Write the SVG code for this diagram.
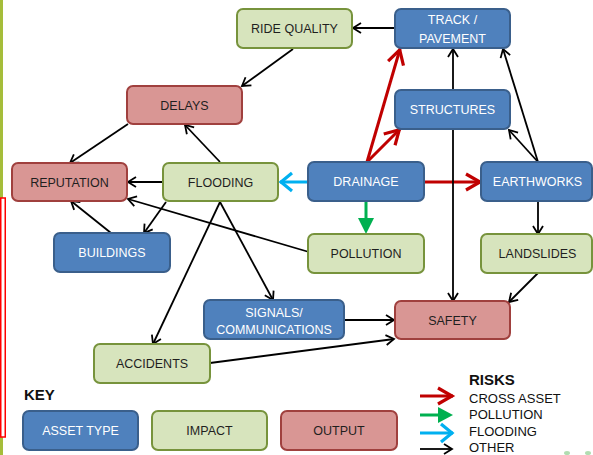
<svg xmlns="http://www.w3.org/2000/svg" width="593" height="455" viewBox="0 0 593 455">
<style>
.node rect{stroke-width:2}
.asset rect{fill:#4F81BD;stroke:#3A5F8B}
.impact rect{fill:#D7E4BD;stroke:#77933C}
.output rect{fill:#D99694;stroke:#A0403E}
text{font-family:"Liberation Sans",Arial,sans-serif;font-size:12.5px;text-anchor:middle}
.asset text{fill:#FFFFFF}
.impact text,.output text{fill:#1F1F1F}
.leg{font-family:"Liberation Sans",Arial,sans-serif;font-size:13px;text-anchor:start;fill:#111}
.hd{font-family:"Liberation Sans",Arial,sans-serif;font-size:15px;font-weight:bold;text-anchor:start;fill:#111}
.k{stroke:#000;stroke-width:1.8;fill:none}
.r{stroke:#C00000;stroke-width:3;fill:none}
.g{stroke:#00B050;stroke-width:3;fill:none}
.b{stroke:#00B0F0;stroke-width:3;fill:none}
</style>
<defs>
<marker id="mk" markerUnits="userSpaceOnUse" orient="auto" markerWidth="20" markerHeight="20" viewBox="-10 -10 20 20" refX="0" refY="0" overflow="visible">
<path d="M-8,-5 L0,0 L-8,5" fill="none" stroke="#000" stroke-width="1.8"/>
</marker>
<marker id="mr" markerUnits="userSpaceOnUse" orient="auto" markerWidth="30" markerHeight="30" viewBox="-15 -15 30 30" refX="0" refY="0" overflow="visible">
<path d="M-15,-8 L-1,0 L-15,8" fill="none" stroke="#C00000" stroke-width="3.2"/>
</marker>
<marker id="mb" markerUnits="userSpaceOnUse" orient="auto" markerWidth="30" markerHeight="30" viewBox="-15 -15 30 30" refX="0" refY="0" overflow="visible">
<path d="M-12,-9 L-1,0 L-12,9" fill="none" stroke="#00B0F0" stroke-width="3.2"/>
</marker>
</defs>
<rect x="0" y="0" width="593" height="455" fill="#FFFFFF"/>
<rect x="0" y="0" width="3" height="455" fill="#A5BD3A"/>
<rect x="0.75" y="198" width="4.5" height="239" fill="#FFFFFF" stroke="#FF0000" stroke-width="1.5"/>
<ellipse cx="567" cy="453" rx="3" ry="2" fill="#7DC77D" opacity="0.6"/>
<ellipse cx="588" cy="453" rx="3" ry="2" fill="#7DC77D" opacity="0.6"/>

<g id="connectors">
<path class="k" d="M395,28 L353,28" marker-end="url(#mk)"/>
<path class="k" d="M293,49 L242,86" marker-end="url(#mk)"/>
<path class="k" d="M128,124 L70,163" marker-end="url(#mk)"/>
<path class="k" d="M220,162 L185,125" marker-end="url(#mk)"/>
<path class="k" d="M163,182 L128,182" marker-end="url(#mk)"/>
<path class="k" d="M309,252 L128,199" marker-end="url(#mk)"/>
<path class="k" d="M111,233 L71,201" marker-end="url(#mk)"/>
<path class="k" d="M166,202 L144,233" marker-end="url(#mk)"/>
<path class="k" d="M220,202 L153,344" marker-end="url(#mk)"/>
<path class="k" d="M220,202 L273,300" marker-end="url(#mk)"/>
<path class="b" d="M308,182 L280,182" marker-end="url(#mb)"/>
<path class="g" d="M366,201 L366,220"/>
<path d="M358,218 L374,218 L366,234 Z" fill="#00B050"/>
<path class="r" d="M367,162 L400,49" marker-end="url(#mr)"/>
<path class="r" d="M367,162 L400,129" marker-end="url(#mr)"/>
<path class="r" d="M424,182 L481,182" marker-end="url(#mr)"/>
<path class="k" d="M453,90 L453,49" marker-end="url(#mk)"/>
<path class="k" d="M538,162 L503,49" marker-end="url(#mk)"/>
<path class="k" d="M538,162 L509,130" marker-end="url(#mk)"/>
<path class="k" d="M538,201 L538,234" marker-end="url(#mk)"/>
<path class="k" d="M538,273 L509,302" marker-end="url(#mk)"/>
<path class="k" d="M344,320 L394,320" marker-end="url(#mk)"/>
<path class="k" d="M210,363 L394,339" marker-end="url(#mk)"/>
<path class="k" d="M453,129 L453,301" marker-end="url(#mk)"/>
</g>

<g id="ride-quality" class="node impact"><rect x="237" y="9" width="115" height="39" rx="6"/><text x="294.5" y="33">RIDE QUALITY</text></g>
<g id="track-pavement" class="node asset"><rect x="395" y="9" width="115" height="39" rx="6"/><text x="452.5" y="24">TRACK /</text><text x="452.5" y="43">PAVEMENT</text></g>
<g id="delays" class="node output"><rect x="127" y="86" width="115" height="38" rx="6"/><text x="184.5" y="110">DELAYS</text></g>
<g id="structures" class="node asset"><rect x="395" y="90" width="115" height="39" rx="6"/><text x="452.5" y="114">STRUCTURES</text></g>
<g id="reputation" class="node output"><rect x="12" y="163" width="115" height="38" rx="6"/><text x="69.5" y="186.5">REPUTATION</text></g>
<g id="flooding" class="node impact"><rect x="163" y="163" width="115" height="38" rx="6"/><text x="220.5" y="186.5">FLOODING</text></g>
<g id="drainage" class="node asset"><rect x="308" y="162" width="116" height="39" rx="6"/><text x="366" y="186">DRAINAGE</text></g>
<g id="earthworks" class="node asset"><rect x="481" y="162" width="111" height="39" rx="6"/><text x="537.5" y="186">EARTHWORKS</text></g>
<g id="buildings" class="node asset"><rect x="54" y="233" width="116" height="39" rx="6"/><text x="112" y="257">BUILDINGS</text></g>
<g id="pollution" class="node impact"><rect x="308" y="234" width="116" height="39" rx="6"/><text x="366" y="258">POLLUTION</text></g>
<g id="landslides" class="node impact"><rect x="481" y="234" width="111" height="39" rx="6"/><text x="537.5" y="258">LANDSLIDES</text></g>
<g id="signals" class="node asset"><rect x="204" y="300" width="140" height="39" rx="6"/><text x="274" y="316.5">SIGNALS/</text><text x="274" y="333.5">COMMUNICATIONS</text></g>
<g id="safety" class="node output"><rect x="395" y="301" width="115" height="38" rx="6"/><text x="452.5" y="324.5">SAFETY</text></g>
<g id="accidents" class="node impact"><rect x="94" y="344" width="116" height="39" rx="6"/><text x="152" y="368">ACCIDENTS</text></g>

<g id="key">
<text class="hd" x="24" y="400">KEY</text>
<g id="key-asset" class="node asset"><rect x="23" y="411" width="115" height="39" rx="6"/><text x="80.5" y="435">ASSET TYPE</text></g>
<g id="key-impact" class="node impact"><rect x="152" y="411" width="115" height="39" rx="6"/><text x="209.5" y="435">IMPACT</text></g>
<g id="key-output" class="node output"><rect x="281" y="411" width="116" height="39" rx="6"/><text x="339" y="435">OUTPUT</text></g>
</g>

<g id="risks">
<text class="hd" x="469" y="385">RISKS</text>
<path class="r" d="M420,396 L453,396" marker-end="url(#mr)"/>
<path class="g" d="M420,415 L440,415"/>
<path d="M438,407 L453,415 L438,423 Z" fill="#00B050"/>
<path class="b" d="M420,433 L453,433" marker-end="url(#mb)"/>
<path class="k" d="M420,449 L452,449" marker-end="url(#mk)"/>
<text class="leg" x="469" y="403">CROSS ASSET</text>
<text class="leg" x="469" y="419">POLLUTION</text>
<text class="leg" x="469" y="436">FLOODING</text>
<text class="leg" x="469" y="452">OTHER</text>
</g>
</svg>
